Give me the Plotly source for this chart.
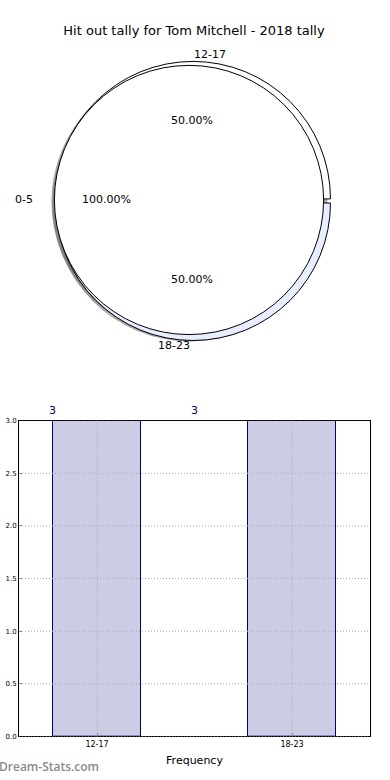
import numpy as np
import plotly.graph_objects as go

# ---- data ----
title_text = "Hit out tally for Tom Mitchell - 2018 tally"
pie1_labels = ["0-5"]
pie1_values = [3]
pie2_labels = ["12-17", "18-23"]
pie2_values = [3, 3]
bar_categories = ["12-17", "18-23"]
bar_values = [3, 3]
bar_label_x = [-0.23, 0.5]
y_ticks = [0.0, 0.5, 1.0, 1.5, 2.0, 2.5, 3.0]

W, H = 390, 780
FONT = "DejaVu Sans"


def dom(cx, cy, r):
    return dict(x=[(cx - r) / W, (cx + r) / W], y=[1 - (cy + r) / H, 1 - (cy - r) / H])


fig = go.Figure()

ROT = -90  # first slice starts at 3 o'clock, counterclockwise like matplotlib

# shadow pies
fig.add_trace(go.Pie(labels=pie2_labels, values=pie2_values, sort=False, direction="counterclockwise",
                     rotation=ROT, domain=dom(190, 202, 139), textinfo="none", hoverinfo="skip",
                     marker=dict(colors=["rgba(110,110,110,0.6)"] * 2, line=dict(width=0)),
                     showlegend=False))
fig.add_trace(go.Pie(labels=pie1_labels, values=pie1_values, sort=False, direction="counterclockwise",
                     rotation=ROT, domain=dom(186, 200, 136), textinfo="none", hoverinfo="skip",
                     marker=dict(colors=["rgba(110,110,110,0.6)"], line=dict(width=0)),
                     showlegend=False))
# second pie (12-17, 18-23)
fig.add_trace(go.Pie(labels=pie2_labels, values=pie2_values, sort=False, direction="counterclockwise",
                     rotation=ROT, domain=dom(193, 199, 141), textinfo="none", pull=[0.015, 0.015],
                     marker=dict(colors=["#ffffff", "#e8eeff"], line=dict(color="black", width=1)),
                     showlegend=False))
# first pie (0-5)
fig.add_trace(go.Pie(labels=pie1_labels, values=pie1_values, sort=False, direction="counterclockwise",
                     rotation=ROT, domain=dom(189, 198, 136), textinfo="none",
                     marker=dict(colors=["#ffffff"], line=dict(color="black", width=1)),
                     showlegend=False))

# pie text positions (matplotlib-style: labels at 1.1 r, pct at 0.6 r)
cx, cy, rx, ry = 192, 198, 143, 134
ann = []
for labels, values in [(pie1_labels, pie1_values), (pie2_labels, pie2_values)]:
    tot = float(sum(values))
    start = 0.0
    for lab, v in zip(labels, values):
        frac = v / tot
        mid = 2 * np.pi * (start + frac / 2)
        start += frac
        c, s = np.cos(mid), np.sin(mid)
        lx, ly = cx + 1.1 * rx * c, cy - 1.1 * ry * s
        ann.append(dict(x=lx / W, y=1 - ly / H, xref="paper", yref="paper", text=lab, showarrow=False,
                        xanchor="left" if c > 0 else "right", yanchor="middle",
                        font=dict(family=FONT, size=11, color="black")))
        px_, py_ = cx + 0.6 * rx * c, cy - 0.6 * ry * s
        ann.append(dict(x=px_ / W, y=1 - py_ / H, xref="paper", yref="paper", text=f"{frac*100:.2f}%",
                        showarrow=False, xanchor="center", yanchor="middle",
                        font=dict(family=FONT, size=11, color="black")))

# bars
fig.add_trace(go.Bar(x=bar_categories, y=bar_values, width=0.45,
                     marker=dict(color="#ccccE4", line=dict(color="#000080", width=1)),
                     showlegend=False, xaxis="x", yaxis="y"))
for xv, v in zip(bar_label_x, bar_values):
    ann.append(dict(x=xv, y=v, xref="x", yref="y", text=str(v), showarrow=False, yshift=10,
                    xanchor="center", yanchor="middle", font=dict(family=FONT, size=11, color="#000066")))

ann.append(dict(x=0, y=1 - 770 / H, xref="paper", yref="paper", text="Dream-Stats.com",
                showarrow=False, xanchor="left", yanchor="middle", xshift=-3,
                font=dict(family="Open Sans", size=12, color="#8a8a8a", weight=600)))

# dotted grid drawn above the bars (as in the reference)
shapes = []
for t in y_ticks:
    shapes.append(dict(type="line", xref="x domain", yref="y", x0=0, x1=1, y0=t, y1=t,
                       line=dict(color="#a8a8a8", width=1, dash="1px,2px"), layer="above"))
for i, _ in enumerate(bar_categories):
    shapes.append(dict(type="line", xref="x", yref="y domain", x0=i, x1=i, y0=0, y1=1,
                       line=dict(color="#a8a8a8", width=1, dash="1px,2px"), layer="above"))

fig.update_layout(
    width=W, height=H, margin=dict(l=0, r=0, t=0, b=0),
    paper_bgcolor="white", plot_bgcolor="white",
    title=dict(text=title_text, x=194 / W, xanchor="center", y=1 - 30 / H, yanchor="middle",
               font=dict(family=FONT, size=13, color="black")),
    annotations=ann,
    shapes=shapes,
    xaxis=dict(domain=[19 / W, 370 / W], range=[-0.4, 1.4], type="category",
               showline=True, mirror=True, linecolor="black", linewidth=1,
               showgrid=False,
               ticks="inside", ticklen=3, tickcolor="#888",
               tickfont=dict(family=FONT, size=8, color="black"),
               title=dict(text="Frequency", font=dict(family=FONT, size=11, color="black"), standoff=8),
               zeroline=False, fixedrange=True, layer="above traces"),
    yaxis=dict(domain=[1 - 740 / H, 1 - 421 / H], range=[0, 3], tickvals=y_ticks,
               ticktext=[f"{t:.1f}" for t in y_ticks],
               showline=True, mirror=True, linecolor="black", linewidth=1,
               showgrid=False,
               ticks="inside", ticklen=3, tickcolor="#888",
               tickfont=dict(family=FONT, size=7, color="black"),
               zeroline=False, fixedrange=True, layer="above traces"),
    bargap=0,
)

fig.write_html("out.html")
